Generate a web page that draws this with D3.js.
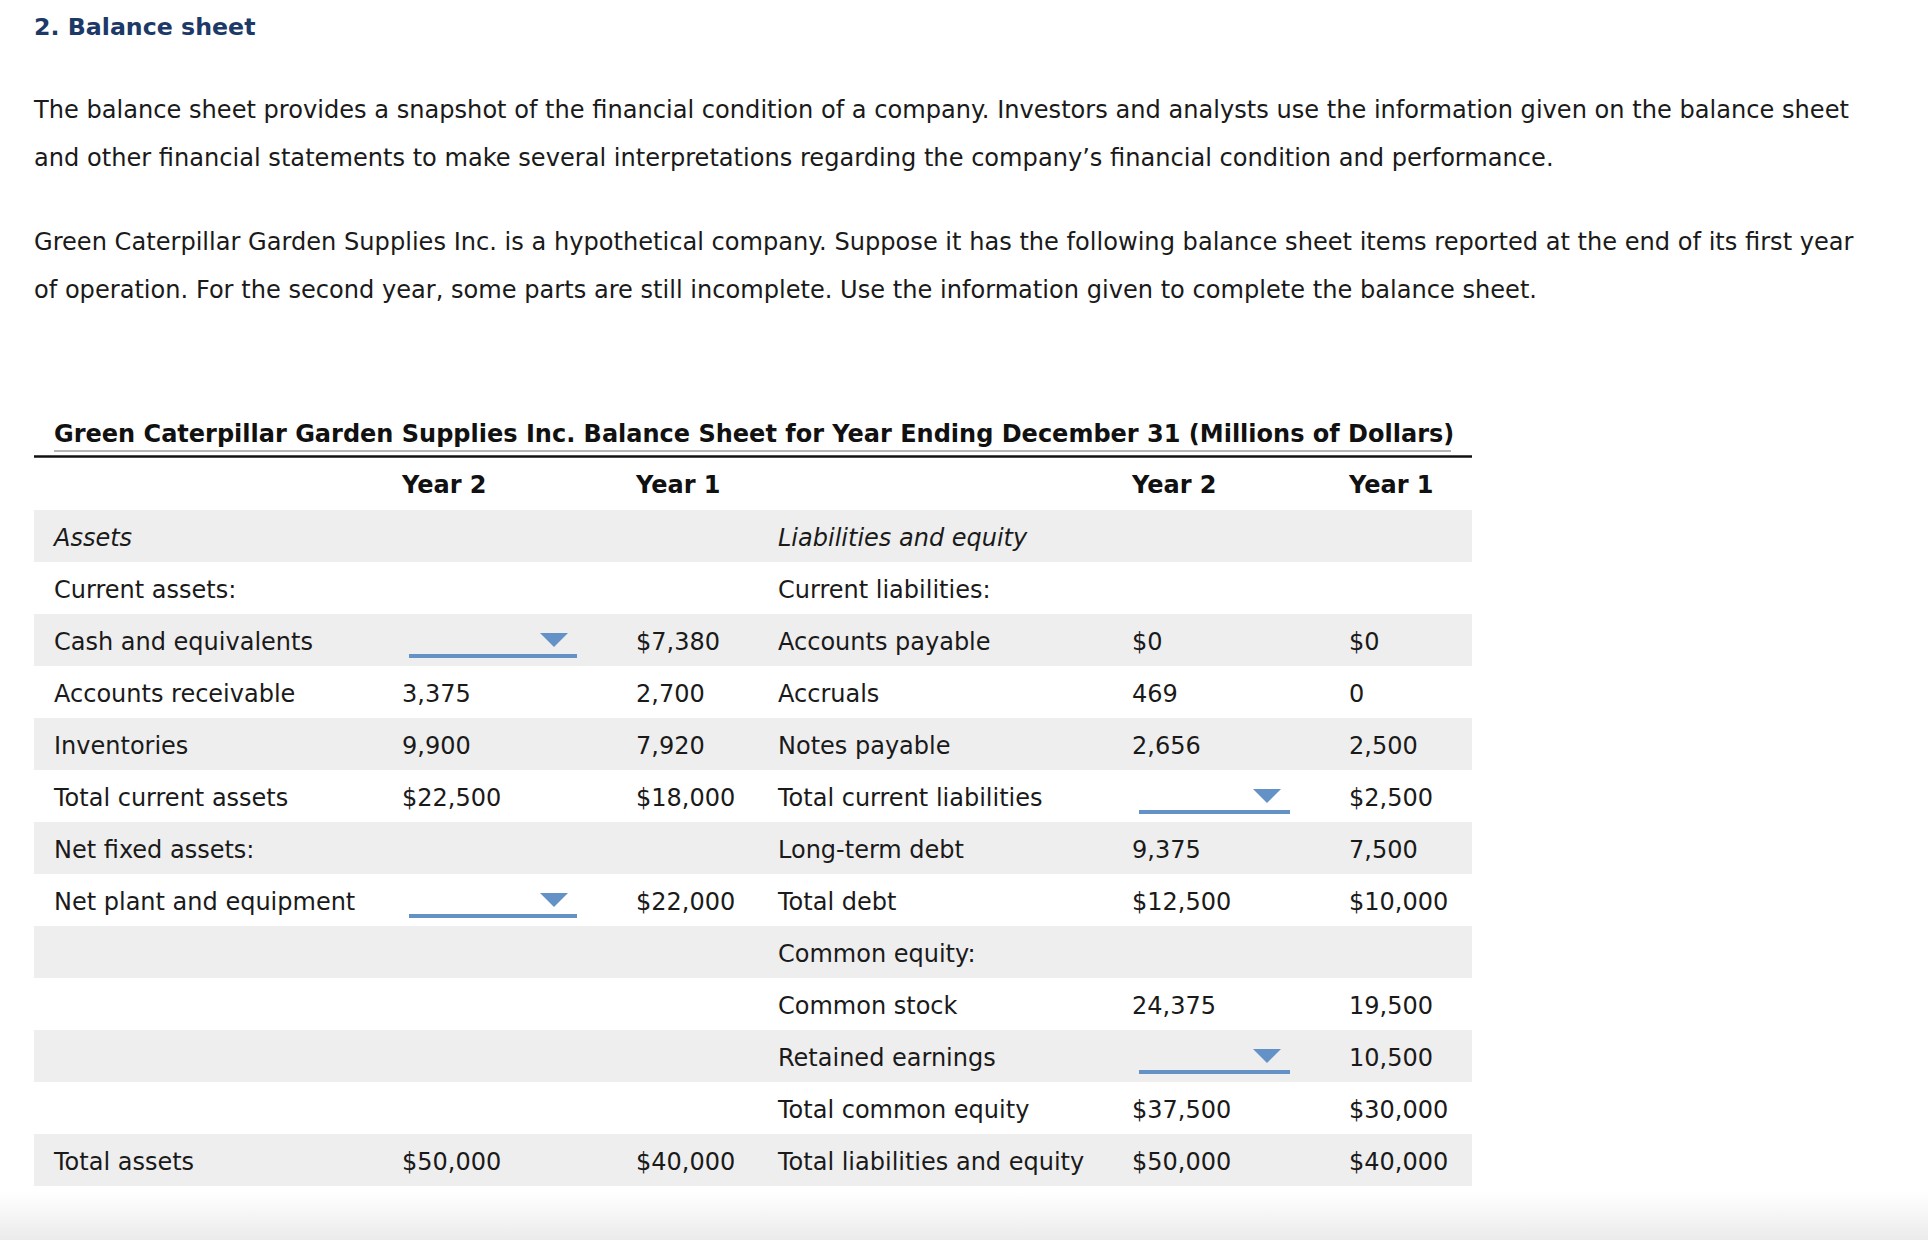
<!DOCTYPE html>
<html>
<head>
<meta charset="utf-8">
<script src="https://cdn.jsdelivr.net/npm/d3@7"></script>
<style>
  html, body { margin: 0; padding: 0; background: #fff; }
  svg text { font-family: "DejaVu Sans", Verdana, sans-serif; }
</style>
</head>
<body>
<svg class="sheet" width="1928" height="1240"></svg>
<script>
// balance sheet values (null = blank dropdown answer)
var heading = "2. Balance sheet";
var introLines = [
    "The balance sheet provides a snapshot of the financial condition of a company. Investors and analysts use the information given on the balance sheet",
    "and other financial statements to make several interpretations regarding the company\u2019s financial condition and performance.",
    "Green Caterpillar Garden Supplies Inc. is a hypothetical company. Suppose it has the following balance sheet items reported at the end of its first year",
    "of operation. For the second year, some parts are still incomplete. Use the information given to complete the balance sheet."
];
var tableTitle = "Green Caterpillar Garden Supplies Inc. Balance Sheet for Year Ending December 31 (Millions of Dollars)";
var yearHeaders = ["Year 2", "Year 1", "Year 2", "Year 1"];

var assetLabels = ["Assets", "Current assets:", "Cash and equivalents", "Accounts receivable", "Inventories",
    "Total current assets", "Net fixed assets:", "Net plant and equipment", "", "", "", "", "Total assets"];
var assetsYear2 = ["", "", null, "3,375", "9,900", "$22,500", "", null, "", "", "", "", "$50,000"];
var assetsYear1 = ["", "", "$7,380", "2,700", "7,920", "$18,000", "", "$22,000", "", "", "", "", "$40,000"];

var liabLabels = ["Liabilities and equity", "Current liabilities:", "Accounts payable", "Accruals", "Notes payable",
    "Total current liabilities", "Long-term debt", "Total debt", "Common equity:", "Common stock",
    "Retained earnings", "Total common equity", "Total liabilities and equity"];
var liabYear2 = ["", "", "$0", "469", "2,656", null, "9,375", "$12,500", "", "24,375", null, "$37,500", "$50,000"];
var liabYear1 = ["", "", "$0", "0", "2,500", "$2,500", "7,500", "$10,000", "", "19,500", "10,500", "$30,000", "$40,000"];

var italicRows = [0];

(function balanceSheetIIFE() {
    var svg = d3.select("svg.sheet"),
        width = +svg.attr("width"),
        height = +svg.attr("height");

    var tableLeft = 34, tableRight = 1472,
        rowTop = 510, rowBottom = 1186;

    var y = d3.scaleBand()
        .domain(d3.range(assetLabels.length))
        .range([rowTop, rowBottom]);

    var columns = ["aLabel", "aY2", "aY1", "lLabel", "lY2", "lY1"];
    var x = d3.scaleOrdinal()
        .domain(columns)
        .range([54, 402, 636, 778, 1132, 1349]);

    // soft footer shade
    var grad = svg.append("defs").append("linearGradient")
        .attr("id", "foot").attr("x1", 0).attr("x2", 0).attr("y1", 0).attr("y2", 1);
    grad.append("stop").attr("offset", "0%").attr("stop-color", "#ffffff");
    grad.append("stop").attr("offset", "100%").attr("stop-color", "#ebebeb");
    svg.append("rect")
        .attr("x", 0).attr("y", 1192).attr("width", width).attr("height", height - 1192)
        .attr("fill", "url(#foot)");

    svg.append("text")
        .attr("x", 34).attr("y", 26).attr("dy", "0.36em")
        .style("font-size", "23.7px").style("font-weight", "bold")
        .style("fill", "#1c3968")
        .text(heading);

    svg.selectAll(".intro")
        .data(introLines)
        .enter()
        .append("text")
        .attr("class", "intro")
        .attr("x", 34)
        .attr("y", function(d, i) { return [109, 157, 241, 289][i]; })
        .attr("dy", "0.36em")
        .style("font-size", "24.1px")
        .style("fill", "#1a1a1a")
        .text(function(d) { return d; });

    // table title + rules
    svg.append("text")
        .attr("x", 54).attr("y", 433).attr("dy", "0.36em")
        .style("font-size", "24px").style("font-weight", "bold")
        .style("fill", "#111")
        .text(tableTitle);
    svg.append("line")
        .attr("x1", 54).attr("x2", 1451).attr("y1", 451).attr("y2", 451)
        .attr("stroke", "#b5b5b5").attr("stroke-width", 2);
    svg.append("line")
        .attr("x1", tableLeft).attr("x2", tableRight).attr("y1", 456.5).attr("y2", 456.5)
        .attr("stroke", "#111").attr("stroke-width", 2.5);

    svg.selectAll(".year")
        .data(yearHeaders)
        .enter()
        .append("text")
        .attr("class", "year")
        .attr("x", function(d, i) { return x(["aY2", "aY1", "lY2", "lY1"][i]); })
        .attr("y", 484).attr("dy", "0.36em")
        .style("font-size", "24px").style("font-weight", "bold")
        .style("fill", "#111")
        .text(function(d) { return d; });

    // zebra bands
    svg.selectAll(".band")
        .data(d3.range(assetLabels.length).filter(function(i) { return i % 2 === 0; }))
        .enter()
        .append("rect")
        .attr("class", "band")
        .attr("x", tableLeft)
        .attr("y", function(i) { return y(i); })
        .attr("width", tableRight - tableLeft)
        .attr("height", y.bandwidth())
        .attr("fill", "#eeeeee");

    var rows = d3.range(assetLabels.length).map(function(i) {
        return {
            i: i,
            aLabel: assetLabels[i], aY2: assetsYear2[i], aY1: assetsYear1[i],
            lLabel: liabLabels[i], lY2: liabYear2[i], lY1: liabYear1[i]
        };
    });

    var cells = [];
    rows.forEach(function(r) {
        columns.forEach(function(c) { cells.push({ row: r.i, col: c, value: r[c] }); });
    });

    var cy = function(d) { return y(d.row) + y.bandwidth() / 2; };

    svg.selectAll(".cell")
        .data(cells.filter(function(d) { return d.value; }))
        .enter()
        .append("text")
        .attr("class", "cell")
        .attr("x", function(d) { return x(d.col); })
        .attr("y", function(d) { return cy(d) + 1; })
        .attr("dy", "0.36em")
        .style("font-size", "24px")
        .style("font-style", function(d) {
            return italicRows.indexOf(d.row) >= 0 && /Label/.test(d.col) ? "italic" : "normal";
        })
        .style("fill", "#1a1a1a")
        .text(function(d) { return d.value; });

    // blank dropdown answers
    var drops = cells.filter(function(d) { return d.value === null; });
    var dropWidth = { aY2: 168, lY2: 151 };

    var dd = svg.selectAll(".dropdown")
        .data(drops)
        .enter()
        .append("g")
        .attr("class", "dropdown")
        .attr("transform", function(d) { return "translate(" + (x(d.col) + 7) + "," + cy(d) + ")"; });

    dd.append("rect")
        .attr("x", 0).attr("y", 14)
        .attr("width", function(d) { return dropWidth[d.col]; })
        .attr("height", 4)
        .attr("fill", "#6592c6");

    dd.append("path")
        .attr("d", function(d) {
            var r = dropWidth[d.col] - 9;
            return "M" + (r - 28) + ",-7L" + r + ",-7L" + (r - 14) + ",7Z";
        })
        .attr("fill", "#6592c6");
})();
</script>
</body>
</html>
